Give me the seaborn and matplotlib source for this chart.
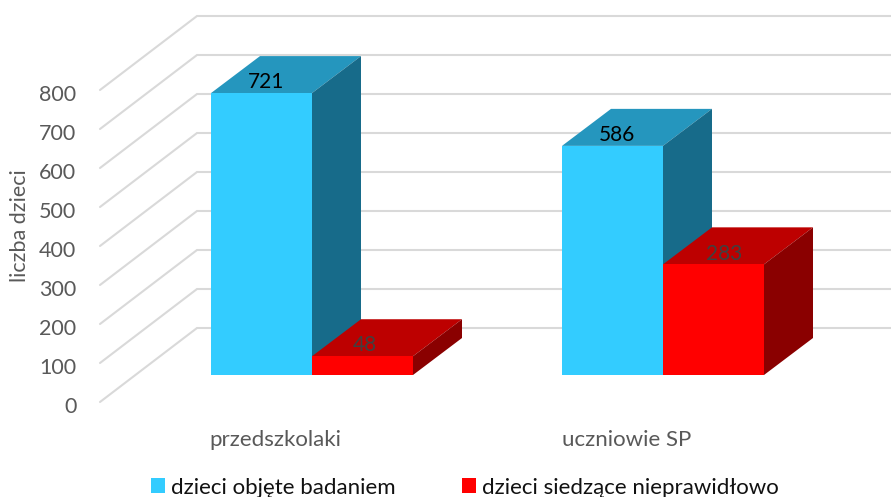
import matplotlib
matplotlib.use("Agg")
import matplotlib.pyplot as plt
import pandas as pd
import seaborn as sns
from matplotlib.patches import Patch, Polygon
from matplotlib.transforms import ScaledTranslation

groups = ["przedszkolaki", "uczniowie SP"]
series_names = ["dzieci objęte badaniem", "dzieci siedzące nieprawidłowo"]
objete = [721, 586]
siedzace = [48, 283]
y_ticks = [0, 100, 200, 300, 400, 500, 600, 700, 800]

front_colors = ["#33CCFF", "#FF0000"]
top_colors = ["#2596BE", "#BD0000"]
side_colors = ["#176B8A", "#8A0000"]
label_colors = ["#000000", "#404040"]
grid_color = "#D9D9D9"
text_color = "#595959"

W, H = 891, 497
PX_PER_UNIT = 0.391
GROUP_PX = 351
# bar depth in data units
DEPTH_X = 49 / GROUP_PX
DEPTH_Y = 37 / PX_PER_UNIT


def main():
    sns.set_theme(style="white")
    plt.rcParams["font.family"] = ["Lato", "DejaVu Sans"]

    df = pd.DataFrame({
        "grupa": groups * 2,
        "seria": [series_names[0]] * 2 + [series_names[1]] * 2,
        "liczba": objete + siedzace,
    })

    fig = plt.figure(figsize=(W / 100, H / 100), dpi=100)

    # walls: the front edge of the box holds the axis ticks
    wall = fig.add_axes([100 / W, 1 - 402 / H, 702 / W, 312 / H], zorder=0)
    wall.set_xlim(-0.5, 1.5)
    wall.set_ylim(0, 800)
    wall_dx = 97 / GROUP_PX
    wall_dy = 74 / 0.39
    wall_end = -0.5 + 791 / GROUP_PX
    for v in y_ticks:
        wall.plot([-0.5, -0.5 + wall_dx, wall_end], [v, v + wall_dy, v + wall_dy],
                  color=grid_color, lw=1.5, clip_on=False, solid_joinstyle="miter")
    wall.set_yticks(y_ticks)
    wall.set_xticks([0, 1], groups)
    wall.tick_params(axis="y", length=0, pad=17, labelsize=15.5, labelcolor=text_color)
    wall.tick_params(axis="x", length=0, pad=20, labelsize=16, labelcolor=text_color)
    # excel puts the numbers a little under the wall lines
    shift = ScaledTranslation(0, -2.5 / 72, fig.dpi_scale_trans)
    for label in wall.get_yticklabels():
        label.set_transform(label.get_transform() + shift)
    wall.set_ylabel("liczba dzieci", fontsize=15.5, color=text_color)
    wall.yaxis.set_label_coords(-70 / 702, 0.565)
    sns.despine(ax=wall, left=True, bottom=True)

    # bars: front faces come from seaborn, the box faces are built on them
    ax = fig.add_axes([0, 0, 1, 1], zorder=1)
    ax.patch.set_alpha(0)
    sns.barplot(data=df, x="grupa", y="liczba", hue="seria", hue_order=series_names,
                palette=front_colors, saturation=1, width=202 / GROUP_PX, gap=0,
                legend=False, linewidth=0, edgecolor="none", ax=ax)
    ax.set_xlim(-312 / GROUP_PX, (W - 312) / GROUP_PX)
    ax.set_ylim(-(H - 375) / PX_PER_UNIT, 375 / PX_PER_UNIT)
    ax.axis("off")

    nudges = [(0.014, 0.0), (0.014, 0.0), (0.006, 0.0), (0.03, -3)]
    for s, container in enumerate(ax.containers):
        for g, bar in enumerate(container):
            x0, x1 = bar.get_x(), bar.get_x() + bar.get_width()
            top = bar.get_height()
            bar.set_zorder(5 + s)
            top_face = [(x0, top), (x1, top), (x1 + DEPTH_X, top + DEPTH_Y), (x0 + DEPTH_X, top + DEPTH_Y)]
            side_face = [(x1, 0), (x1 + DEPTH_X, DEPTH_Y), (x1 + DEPTH_X, top + DEPTH_Y), (x1, top)]
            ax.add_patch(Polygon(top_face, closed=True, fc=top_colors[s], ec="none", zorder=2 + s))
            ax.add_patch(Polygon(side_face, closed=True, fc=side_colors[s], ec="none", zorder=2 + s))

            nx, ny = nudges[s * 2 + g]
            ax.text((x0 + x1) / 2 + nx, top + 29 + ny, str(int(top)), ha="center", va="center",
                    fontsize=15, color=label_colors[s], zorder=8)

    handles = [Patch(fc=c, ec="none") for c in front_colors]
    fig.legend(handles, series_names, loc="center", bbox_to_anchor=(465 / W, 1 - 487.5 / H),
               ncol=2, frameon=False, fontsize=16, handlelength=0.63, handleheight=0.63,
               handletextpad=0.27, columnspacing=3.0, labelcolor="#111111")

    fig.savefig("out.png", dpi=100)


if __name__ == "__main__":
    main()
